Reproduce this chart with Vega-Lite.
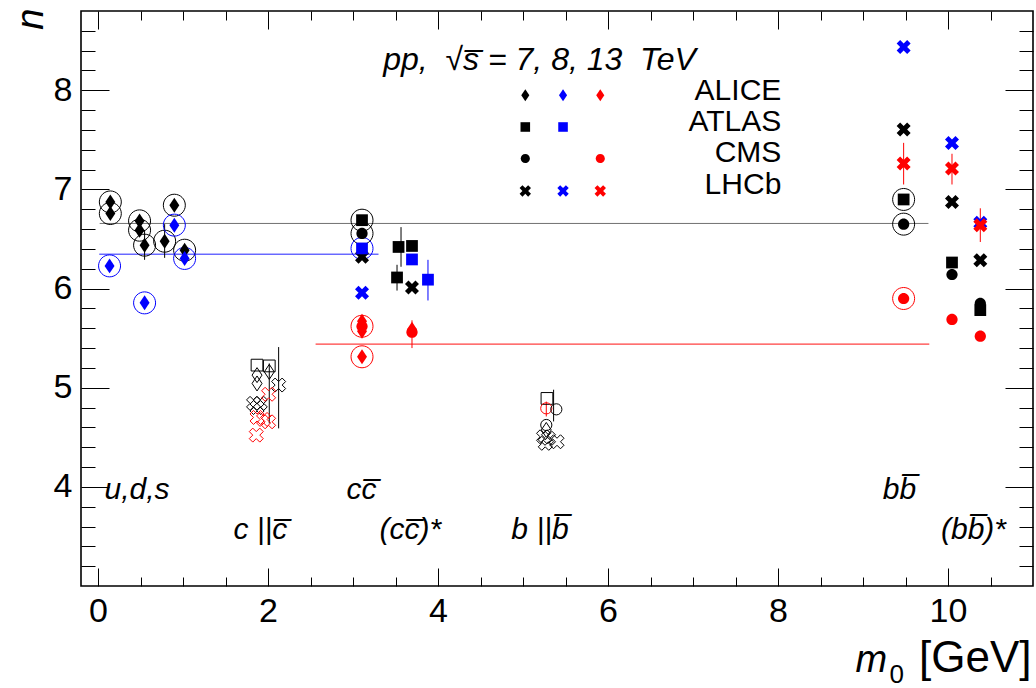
{
  "$schema": "https://vega.github.io/schema/vega-lite/v6.json",
  "width": 952,
  "height": 575,
  "autosize": "none",
  "padding": {"left": 81, "top": 11, "right": 3, "bottom": 102},
  "background": "white",
  "config": {"view": {"stroke": "black", "strokeWidth": 1.6}, "font": "Liberation Sans"},
  "resolve": {"axis": {"x": "independent", "y": "independent"}},
  "datasets": {
    "hlines": [
      {"m1": 0.02, "m2": 9.77, "n": 6.657, "sqrts": "7"},
      {"m1": 0.015, "m2": 3.3, "n": 6.347, "sqrts": "8"},
      {"m1": 2.56, "m2": 9.78, "n": 5.44, "sqrts": "13"}
    ],
    "errors": [
      {"m": 0.548, "lo": 6.29, "hi": 6.59, "sqrts": "7"},
      {"m": 0.784, "lo": 6.31, "hi": 6.65, "sqrts": "7"},
      {"m": 2.125, "lo": 4.59, "hi": 5.41, "sqrts": "7"},
      {"m": 2.015, "lo": 4.64, "hi": 5.245, "sqrts": "7"},
      {"m": 3.565, "lo": 6.22, "hi": 6.62, "sqrts": "7"},
      {"m": 3.518, "lo": 5.98, "hi": 6.24, "sqrts": "7"},
      {"m": 3.882, "lo": 5.88, "hi": 6.29, "sqrts": "8"},
      {"m": 3.694, "lo": 5.40, "hi": 5.68, "sqrts": "13"},
      {"m": 5.36, "lo": 4.66, "hi": 4.98, "sqrts": "7"},
      {"m": 5.274, "lo": 4.71, "hi": 4.86, "sqrts": "13"},
      {"m": 9.478, "lo": 7.05, "hi": 7.47, "sqrts": "13"},
      {"m": 10.047, "lo": 7.05, "hi": 7.36, "sqrts": "13"},
      {"m": 10.38, "lo": 6.47, "hi": 6.81, "sqrts": "13"}
    ],
    "points": [
      {"m": 0.145, "n": 6.874, "exp": "ALICE", "sqrts": "7", "grp": "uds", "ring": 1},
      {"m": 0.145, "n": 6.757, "exp": "ALICE", "sqrts": "7", "grp": "uds", "ring": 1},
      {"m": 0.489, "n": 6.683, "exp": "ALICE", "sqrts": "7", "grp": "uds", "ring": 1},
      {"m": 0.489, "n": 6.589, "exp": "ALICE", "sqrts": "7", "grp": "uds", "ring": 1},
      {"m": 0.548, "n": 6.438, "exp": "ALICE", "sqrts": "7", "grp": "uds", "ring": 1},
      {"m": 0.784, "n": 6.478, "exp": "ALICE", "sqrts": "7", "grp": "uds", "ring": 1},
      {"m": 0.898, "n": 6.841, "exp": "ALICE", "sqrts": "7", "grp": "uds", "ring": 1},
      {"m": 1.019, "n": 6.387, "exp": "ALICE", "sqrts": "7", "grp": "uds", "ring": 1},
      {"m": 0.136, "n": 6.229, "exp": "ALICE", "sqrts": "8", "grp": "uds", "ring": 1},
      {"m": 0.548, "n": 5.856, "exp": "ALICE", "sqrts": "8", "grp": "uds", "ring": 1},
      {"m": 0.898, "n": 6.64, "exp": "ALICE", "sqrts": "8", "grp": "uds", "ring": 1},
      {"m": 1.019, "n": 6.304, "exp": "ALICE", "sqrts": "8", "grp": "uds", "ring": 1},
      {"m": 1.871, "n": 5.228, "exp": "ATLAS", "sqrts": "7", "grp": "c", "ring": 0},
      {"m": 2.015, "n": 5.22, "exp": "ATLAS", "sqrts": "7", "grp": "c", "ring": 0},
      {"m": 1.871, "n": 5.127, "exp": "ALICE", "sqrts": "7", "grp": "c", "ring": 0},
      {"m": 1.871, "n": 5.043, "exp": "ALICE", "sqrts": "7", "grp": "c", "ring": 0},
      {"m": 2.015, "n": 5.16, "exp": "ALICE", "sqrts": "7", "grp": "c", "ring": 0},
      {"m": 1.83, "n": 4.842, "exp": "LHCb", "sqrts": "7", "grp": "c", "ring": 0},
      {"m": 1.909, "n": 4.842, "exp": "LHCb", "sqrts": "7", "grp": "c", "ring": 0},
      {"m": 1.871, "n": 4.8, "exp": "LHCb", "sqrts": "7", "grp": "c", "ring": 0},
      {"m": 2.125, "n": 5.027, "exp": "LHCb", "sqrts": "7", "grp": "c", "ring": 0},
      {"m": 2.007, "n": 4.934, "exp": "LHCb", "sqrts": "13", "grp": "c", "ring": 0},
      {"m": 1.871, "n": 4.7, "exp": "LHCb", "sqrts": "13", "grp": "c", "ring": 0},
      {"m": 1.948, "n": 4.68, "exp": "LHCb", "sqrts": "13", "grp": "c", "ring": 0},
      {"m": 2.007, "n": 4.656, "exp": "LHCb", "sqrts": "13", "grp": "c", "ring": 0},
      {"m": 1.862, "n": 4.522, "exp": "LHCb", "sqrts": "13", "grp": "c", "ring": 0},
      {"m": 3.106, "n": 6.32, "exp": "LHCb", "sqrts": "7", "grp": "cc", "ring": 0},
      {"m": 3.106, "n": 6.69, "exp": "ATLAS", "sqrts": "7", "grp": "cc", "ring": 1},
      {"m": 3.106, "n": 6.556, "exp": "CMS", "sqrts": "7", "grp": "cc", "ring": 1},
      {"m": 3.106, "n": 6.405, "exp": "ATLAS", "sqrts": "8", "grp": "cc", "ring": 1},
      {"m": 3.106, "n": 5.957, "exp": "LHCb", "sqrts": "8", "grp": "cc", "ring": 0},
      {"m": 3.106, "n": 5.67, "exp": "ALICE", "sqrts": "13", "grp": "cc", "ring": 0},
      {"m": 3.106, "n": 5.57, "exp": "ALICE", "sqrts": "13", "grp": "cc", "ring": 0},
      {"m": 3.106, "n": 5.62, "exp": "CMS", "sqrts": "13", "grp": "cc", "ring": 1},
      {"m": 3.106, "n": 5.312, "exp": "ALICE", "sqrts": "13", "grp": "cc", "ring": 1},
      {"m": 3.536, "n": 6.42, "exp": "ATLAS", "sqrts": "7", "grp": "ccstar", "ring": 0},
      {"m": 3.694, "n": 6.43, "exp": "ATLAS", "sqrts": "7", "grp": "ccstar", "ring": 0},
      {"m": 3.694, "n": 6.294, "exp": "ATLAS", "sqrts": "8", "grp": "ccstar", "ring": 0},
      {"m": 3.518, "n": 6.112, "exp": "ATLAS", "sqrts": "7", "grp": "ccstar", "ring": 0},
      {"m": 3.694, "n": 6.01, "exp": "LHCb", "sqrts": "7", "grp": "ccstar", "ring": 0},
      {"m": 3.882, "n": 6.09, "exp": "ATLAS", "sqrts": "8", "grp": "ccstar", "ring": 0},
      {"m": 3.694, "n": 5.59, "exp": "ALICE", "sqrts": "13", "grp": "ccstar", "ring": 0},
      {"m": 3.694, "n": 5.56, "exp": "CMS", "sqrts": "13", "grp": "ccstar", "ring": 0},
      {"m": 5.282, "n": 4.892, "exp": "ATLAS", "sqrts": "7", "grp": "b", "ring": 0},
      {"m": 5.274, "n": 4.792, "exp": "CMS", "sqrts": "13", "grp": "b", "ring": 0},
      {"m": 5.392, "n": 4.782, "exp": "CMS", "sqrts": "7", "grp": "b", "ring": 0},
      {"m": 5.274, "n": 4.624, "exp": "CMS", "sqrts": "7", "grp": "b", "ring": 0},
      {"m": 5.274, "n": 4.574, "exp": "ALICE", "sqrts": "7", "grp": "b", "ring": 0},
      {"m": 5.242, "n": 4.505, "exp": "LHCb", "sqrts": "7", "grp": "b", "ring": 0},
      {"m": 5.3, "n": 4.49, "exp": "LHCb", "sqrts": "7", "grp": "b", "ring": 0},
      {"m": 5.262, "n": 4.439, "exp": "LHCb", "sqrts": "7", "grp": "b", "ring": 0},
      {"m": 5.4, "n": 4.455, "exp": "LHCb", "sqrts": "7", "grp": "b", "ring": 0},
      {"m": 9.478, "n": 8.437, "exp": "LHCb", "sqrts": "8", "grp": "bb", "ring": 0},
      {"m": 9.478, "n": 7.604, "exp": "LHCb", "sqrts": "7", "grp": "bb", "ring": 0},
      {"m": 9.478, "n": 7.262, "exp": "LHCb", "sqrts": "13", "grp": "bb", "ring": 0},
      {"m": 9.478, "n": 6.899, "exp": "ATLAS", "sqrts": "7", "grp": "bb", "ring": 1},
      {"m": 9.478, "n": 6.65, "exp": "CMS", "sqrts": "7", "grp": "bb", "ring": 1},
      {"m": 9.478, "n": 5.9, "exp": "CMS", "sqrts": "13", "grp": "bb", "ring": 1},
      {"m": 10.047, "n": 7.469, "exp": "LHCb", "sqrts": "8", "grp": "bbstar", "ring": 0},
      {"m": 10.047, "n": 7.211, "exp": "LHCb", "sqrts": "13", "grp": "bbstar", "ring": 0},
      {"m": 10.047, "n": 6.874, "exp": "LHCb", "sqrts": "7", "grp": "bbstar", "ring": 0},
      {"m": 10.047, "n": 6.263, "exp": "ATLAS", "sqrts": "7", "grp": "bbstar", "ring": 0},
      {"m": 10.047, "n": 6.142, "exp": "CMS", "sqrts": "7", "grp": "bbstar", "ring": 0},
      {"m": 10.047, "n": 5.689, "exp": "CMS", "sqrts": "13", "grp": "bbstar", "ring": 0},
      {"m": 10.38, "n": 6.663, "exp": "LHCb", "sqrts": "8", "grp": "bbstar", "ring": 0},
      {"m": 10.38, "n": 6.64, "exp": "LHCb", "sqrts": "13", "grp": "bbstar", "ring": 0},
      {"m": 10.38, "n": 6.287, "exp": "LHCb", "sqrts": "7", "grp": "bbstar", "ring": 0},
      {"m": 10.38, "n": 5.783, "exp": "ATLAS", "sqrts": "7", "grp": "bbstar", "ring": 0},
      {"m": 10.38, "n": 5.85, "exp": "CMS", "sqrts": "7", "grp": "bbstar", "ring": 0},
      {"m": 10.38, "n": 5.52, "exp": "CMS", "sqrts": "13", "grp": "bbstar", "ring": 0}
    ],
    "legendMarks": [
      {"exp": "ALICE", "sqrts": "7", "m": 5.027, "n": 7.95},
      {"exp": "ALICE", "sqrts": "8", "m": 5.471, "n": 7.95},
      {"exp": "ALICE", "sqrts": "13", "m": 5.909, "n": 7.95},
      {"exp": "ATLAS", "sqrts": "7", "m": 5.027, "n": 7.63},
      {"exp": "ATLAS", "sqrts": "8", "m": 5.471, "n": 7.63},
      {"exp": "CMS", "sqrts": "7", "m": 5.027, "n": 7.312},
      {"exp": "CMS", "sqrts": "13", "m": 5.909, "n": 7.312},
      {"exp": "LHCb", "sqrts": "7", "m": 5.027, "n": 6.985},
      {"exp": "LHCb", "sqrts": "8", "m": 5.471, "n": 6.985},
      {"exp": "LHCb", "sqrts": "13", "m": 5.909, "n": 6.985}
    ],
    "legendText": [
      {"label": "ALICE", "m": 8.039, "n": 7.99},
      {"label": "ATLAS", "m": 8.039, "n": 7.677},
      {"label": "CMS", "m": 8.039, "n": 7.365},
      {"label": "LHCb", "m": 8.039, "n": 7.042}
    ],
    "titleText": [
      {"label": "pp,\u00a0 √s\u0305 = 7, 8, 13 \u00a0TeV", "m": 3.356, "n": 8.303}
    ],
    "groupLabels": [
      {"label": "u,d,s", "m": 0.46, "n": 3.968},
      {"label": "cc\u0305", "m": 3.1, "n": 3.968},
      {"label": "bb\u0305", "m": 9.43, "n": 3.968},
      {"label": "c ||c\u0305", "m": 1.91, "n": 3.565},
      {"label": "(cc\u0305)*", "m": 3.675, "n": 3.565},
      {"label": "b ||b\u0305", "m": 5.2, "n": 3.565},
      {"label": "(bb\u0305)*", "m": 10.3, "n": 3.565}
    ]
  },
  "layer": [
    {
      "data": {"name": "hlines"},
      "mark": {"type": "rule", "strokeWidth": 1},
      "encoding": {
        "x": {"field": "m1", "type": "quantitative", "scale": {"domain": [-0.2, 11.0], "nice": false, "zero": false},
          "axis": {"orient": "top", "values": [0,0.5,1,1.5,2,2.5,3,3.5,4,4.5,5,5.5,6,6.5,7,7.5,8,8.5,9,9.5,10,10.5],
            "labels": false, "domain": false, "grid": false, "tickColor": "black", "tickWidth": 1,
            "tickSize": {"condition": {"test": "datum.value % 2 === 0", "value": -18}, "value": -9},
            "title": "m", "titleFont": "Liberation Sans", "titleFontStyle": "italic", "titleFontWeight": "normal", "titleFontSize": 38, "titleColor": "black",
            "titleAngle": 0, "titleAlign": "left", "titleAnchor": null, "titleBaseline": "alphabetic", "titleX": 774, "titleY": 660}},
        "x2": {"field": "m2"},
        "y": {"field": "n", "type": "quantitative", "scale": {"domain": [3.0, 8.8], "nice": false, "zero": false},
          "axis": {"orient": "right", "values": [3.2,3.4,3.6,3.8,4,4.2,4.4,4.6,4.8,5,5.2,5.4,5.6,5.8,6,6.2,6.4,6.6,6.8,7,7.2,7.4,7.6,7.8,8,8.2,8.4,8.6],
            "labels": false, "domain": false, "grid": false, "tickColor": "black", "tickWidth": 1,
            "tickSize": {"condition": {"test": "datum.value % 1 === 0", "value": -28}, "value": -14},
            "title": "0", "titleFont": "Liberation Sans", "titleFontWeight": "normal", "titleFontSize": 26, "titleColor": "black",
            "titleAngle": 0, "titleAlign": "left", "titleAnchor": null, "titleBaseline": "alphabetic", "titleX": -144, "titleY": 671}},
        "stroke": {"field": "sqrts", "type": "nominal", "scale": {"domain": ["7", "8", "13"], "range": ["#707070", "#2020ff", "#ff1010"]}, "legend": null}
      }
    },
    {
      "data": {"name": "errors"},
      "mark": {"type": "rule", "strokeWidth": 1},
      "encoding": {
        "x": {"field": "m", "type": "quantitative", "scale": {"domain": [-0.2, 11.0], "nice": false, "zero": false},
          "axis": {"orient": "bottom", "values": [0,0.5,1,1.5,2,2.5,3,3.5,4,4.5,5,5.5,6,6.5,7,7.5,8,8.5,9,9.5,10,10.5],
            "labelExpr": "datum.value % 2 === 0 ? format(datum.value, 'd') : ''",
            "labelFont": "Liberation Sans", "labelFontSize": 34, "labelColor": "black", "labelPadding": 26, "labelFlush": false, "labelOverlap": false,
            "domain": false, "grid": false, "tickColor": "black", "tickWidth": 1,
            "tickSize": {"condition": {"test": "datum.value % 2 === 0", "value": -18}, "value": -9},
            "title": "[GeV]", "titleFont": "Liberation Sans", "titleFontWeight": "normal", "titleFontSize": 44, "titleColor": "black",
            "titleAlign": "right", "titleAnchor": null, "titleBaseline": "alphabetic", "titleX": 950, "titleY": 85}},
        "y": {"field": "lo", "type": "quantitative", "scale": {"domain": [3.0, 8.8], "nice": false, "zero": false},
          "axis": {"orient": "left", "values": [3.2,3.4,3.6,3.8,4,4.2,4.4,4.6,4.8,5,5.2,5.4,5.6,5.8,6,6.2,6.4,6.6,6.8,7,7.2,7.4,7.6,7.8,8,8.2,8.4,8.6],
            "labelExpr": "datum.value % 1 === 0 ? format(datum.value, 'd') : ''",
            "labelFont": "Liberation Sans", "labelFontSize": 34, "labelColor": "black", "labelPadding": 37, "labelFlush": false, "labelOverlap": false,
            "domain": false, "grid": false, "tickColor": "black", "tickWidth": 1,
            "tickSize": {"condition": {"test": "datum.value % 1 === 0", "value": -28}, "value": -14},
            "title": "n", "titleFont": "Liberation Sans", "titleFontStyle": "italic", "titleFontWeight": "normal", "titleFontSize": 38, "titleColor": "black",
            "titleAngle": 270, "titleAlign": "right", "titleAnchor": null, "titleBaseline": "alphabetic", "titleX": -39, "titleY": -3}},
        "y2": {"field": "hi"},
        "color": {"field": "sqrts", "type": "nominal", "scale": {"domain": ["7", "8", "13"], "range": ["#000000", "#0000ff", "#ff0000"]}, "legend": null}
      }
    },
    {
      "data": {"name": "points"},
      "transform": [{"filter": "datum.ring === 1"}],
      "mark": {"type": "point", "filled": false, "shape": "M1.57,0A1.57,1.57 0 1,1 -1.57,0A1.57,1.57 0 1,1 1.57,0Z", "size": 196, "strokeWidth": 1, "opacity": 1},
      "encoding": {
        "x": {"field": "m", "type": "quantitative", "axis": null},
        "y": {"field": "n", "type": "quantitative", "axis": null},
        "color": {"field": "sqrts", "type": "nominal", "legend": null}
      }
    },
    {
      "data": {"name": "points"},
      "transform": [{"filter": "datum.grp === 'c' || datum.grp === 'b'"}],
      "mark": {"type": "point", "filled": false, "size": 196, "strokeWidth": 1, "opacity": 1},
      "encoding": {
        "x": {"field": "m", "type": "quantitative", "axis": null},
        "y": {"field": "n", "type": "quantitative", "axis": null},
        "color": {"field": "sqrts", "type": "nominal", "legend": null},
        "shape": {"field": "exp", "type": "nominal", "legend": null,
          "scale": {"domain": ["ALICE", "ATLAS", "CMS", "LHCb"],
            "range": ["M0,-1.07L0.71,0L0,1.07L-0.71,0Z", "M-0.84,-0.84L0.84,-0.84L0.84,0.84L-0.84,0.84Z", "M0.8,0A0.8,0.8 0 1,1 -0.8,0A0.8,0.8 0 1,1 0.8,0Z", "M-1,-0.5L-0.5,-1L0,-0.5L0.5,-1L1,-0.5L0.5,0L1,0.5L0.5,1L0,0.5L-0.5,1L-1,0.5L-0.5,0Z"]}}
      }
    },
    {
      "data": {"name": "points"},
      "transform": [{"filter": "datum.grp !== 'c' && datum.grp !== 'b'"}],
      "mark": {"type": "point", "filled": true, "size": 196, "opacity": 1},
      "encoding": {
        "x": {"field": "m", "type": "quantitative", "axis": null},
        "y": {"field": "n", "type": "quantitative", "axis": null},
        "color": {"field": "sqrts", "type": "nominal", "legend": null},
        "shape": {"field": "exp", "type": "nominal", "legend": null}
      }
    },
    {
      "data": {"name": "legendMarks"},
      "mark": {"type": "point", "filled": true, "size": 130, "opacity": 1},
      "encoding": {
        "x": {"field": "m", "type": "quantitative", "axis": null},
        "y": {"field": "n", "type": "quantitative", "axis": null},
        "color": {"field": "sqrts", "type": "nominal", "legend": null},
        "shape": {"field": "exp", "type": "nominal", "legend": null}
      }
    },
    {
      "data": {"name": "legendText"},
      "mark": {"type": "text", "align": "right", "baseline": "middle", "font": "Liberation Sans", "fontSize": 30, "color": "black"},
      "encoding": {
        "x": {"field": "m", "type": "quantitative", "axis": null},
        "y": {"field": "n", "type": "quantitative", "axis": null},
        "text": {"field": "label"}
      }
    },
    {
      "data": {"name": "titleText"},
      "mark": {"type": "text", "align": "left", "baseline": "middle", "font": "Liberation Sans", "fontStyle": "italic", "fontSize": 32, "color": "black"},
      "encoding": {
        "x": {"field": "m", "type": "quantitative", "axis": null},
        "y": {"field": "n", "type": "quantitative", "axis": null},
        "text": {"field": "label"}
      }
    },
    {
      "data": {"name": "groupLabels"},
      "mark": {"type": "text", "align": "center", "baseline": "middle", "font": "Liberation Sans", "fontStyle": "italic", "fontSize": 30, "color": "black"},
      "encoding": {
        "x": {"field": "m", "type": "quantitative", "axis": null},
        "y": {"field": "n", "type": "quantitative", "axis": null},
        "text": {"field": "label"}
      }
    }
  ]
}
